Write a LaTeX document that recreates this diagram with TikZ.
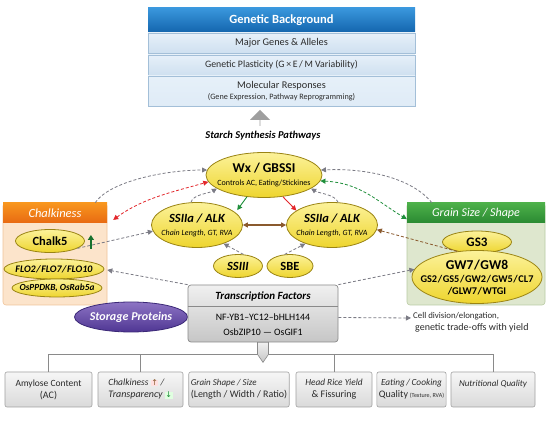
\documentclass[tikz,border=0pt]{standalone}
\usepackage{fontspec}
\setmainfont{Carlito}
\newfontfamily\dejavu{DejaVu Sans}
\usetikzlibrary{arrows.meta,shapes.geometric,shapes.arrows}
\newcommand{\fsz}[2]{\fontsize{#1}{#2}\selectfont}
\newcommand{\slsh}{\kern0.6pt/\kern0.6pt}
\definecolor{gbA}{HTML}{3A97DD}\definecolor{gbB}{HTML}{1466AE}
\definecolor{rowA}{HTML}{E6F0F9}\definecolor{rowB}{HTML}{CFE0F0}\definecolor{rowD}{HTML}{A3BFD8}
\definecolor{ylA}{HTML}{FCF29A}\definecolor{ylB}{HTML}{EED52E}\definecolor{ylD}{HTML}{9A8414}
\definecolor{orA}{HTML}{F8961E}\definecolor{orB}{HTML}{E86A12}\definecolor{orBody}{HTML}{FCE4CB}\definecolor{orD}{HTML}{F0C49A}
\definecolor{grA}{HTML}{4DB04A}\definecolor{grB}{HTML}{2A8A32}\definecolor{grBody}{HTML}{DEE7CE}\definecolor{grD}{HTML}{B9CBA4}
\definecolor{puA}{HTML}{8D74C4}\definecolor{puB}{HTML}{4F3693}\definecolor{puD}{HTML}{3B2877}
\definecolor{tgA}{HTML}{F0F0F0}\definecolor{tgB}{HTML}{C6C6C6}\definecolor{tgD}{HTML}{8A8A8A}
\definecolor{bxA}{HTML}{F6F6F6}\definecolor{bxB}{HTML}{DADADA}
\definecolor{cgray}{HTML}{7B7B85}\definecolor{cred}{HTML}{E3262B}\definecolor{cgreen}{HTML}{1E8E3A}\definecolor{cbrown}{HTML}{8A5A2E}
\definecolor{txt}{HTML}{2B2B2B}
\begin{document}
\begin{tikzpicture}[x=1pt,y=-1pt,
  yel/.style={ellipse, draw=ylD, line width=0.8pt, top color=ylA, bottom color=ylB, inner sep=0pt},
  lbl/.style={align=center, inner sep=0pt, text=black},
  row/.style={rectangle, draw=rowD, line width=0.5pt, top color=rowA, bottom color=rowB, minimum width=267, inner sep=0pt, align=center, text=txt},
  hdrbox/.style={rectangle, inner sep=0pt, text=white, align=center},
  bbox/.style={rectangle, rounded corners=2pt, draw=tgD!80, line width=0.6pt, top color=bxA, bottom color=bxB, minimum height=35, inner sep=2pt, text=txt},
  con/.style={line width=0.8pt, dash pattern=on 3pt off 2pt},
  tip/.style={-{Triangle[length=5pt,width=5pt]}},
  dtip/.style={{Triangle[length=5pt,width=5pt]}-{Triangle[length=5pt,width=5pt]}},
]
\useasboundingbox (0,0) rectangle (550,422);
\fill[white] (0,0) rectangle (550,422);

% ---------- top block
\node[hdrbox, top color=gbA, bottom color=gbB, minimum width=267, minimum height=24] (gb) at (281.5,20) {\fsz{12.5}{14}\bfseries Genetic Background};
\node[row, minimum height=20] (r1) at (281.5,43) {\fsz{10.3}{12}Major Genes \& Alleles};
\node[row, minimum height=20] (r2) at (281.5,65) {\fsz{9.8}{12}Genetic Plasticity (G\,×\,E\,/\,M Variability)};
\node[row, minimum height=30, top color=rowA, bottom color=rowA!70!rowB] (r3) at (281.5,91) {\fsz{10.3}{11}Molecular Responses\\[-1pt]\fsz{8.2}{9}(Gene Expression, Pathway Reprogramming)};

\node[single arrow, shape border rotate=90, fill=gray!75, minimum height=16, minimum width=20, single arrow head extend=5pt, inner sep=0pt] (up) at (260,118) {};
\node (ssp) at (263,136) {\fsz{10.5}{12}\bfseries\itshape Starch Synthesis Pathways};

% ---------- side panels
\node[rectangle, rounded corners=3pt, fill=orBody, draw=orD, line width=0.6pt, minimum width=104, minimum height=102, inner sep=0pt] (chk) at (55,254) {};
\node[hdrbox, top color=orA, bottom color=orB, minimum width=104, minimum height=20, anchor=north] (chkh) at (chk.north) {\fsz{12.5}{14}\itshape Chalkiness};
\node[rectangle, rounded corners=3pt, fill=grBody, draw=grD, line width=0.6pt, minimum width=138, minimum height=102, inner sep=0pt] (gs) at (476,254) {};
\node[hdrbox, top color=grA, bottom color=grB, minimum width=138, minimum height=20, anchor=north] (gsh) at (gs.north) {\fsz{12}{14}\itshape Grain Size / Shape};

% ---------- ellipses
\node[yel, minimum width=116, minimum height=45, label={[lbl]center:{\fsz{13.5}{15}\bfseries Wx / GBSSI\\[1pt]\fsz{8}{9}Controls AC, Eating/Stickines}}] (wx) at (264,175) {};
\node[yel, minimum width=91, minimum height=45, label={[lbl]center:{\fsz{12.5}{14}\bfseries\itshape SSIIa / ALK\\[1pt]\fsz{8}{9}\itshape Chain Length, GT, RVA}}] (sl) at (197,225) {};
\node[yel, minimum width=91, minimum height=45, label={[lbl]center:{\fsz{12.5}{14}\bfseries\itshape SSIIa / ALK\\[1pt]\fsz{8}{9}\itshape Chain Length, GT, RVA}}] (sr) at (332,225) {};
\node[yel, minimum width=49, minimum height=23, label={[lbl]center:{\fsz{12.5}{14}\bfseries\itshape SSIII}}] (s3) at (238,266) {};
\node[yel, minimum width=46, minimum height=23, label={[lbl]center:{\fsz{12.5}{14}\bfseries SBE}}] (sbe) at (290,266) {};

\node[yel, minimum width=69, minimum height=23, label={[lbl]center:{\fsz{12.5}{14}\bfseries Chalk5}}] (ch5) at (50,241) {};
\node[yel, minimum width=100, minimum height=20, label={[lbl]center:{\fsz{10}{11}\bfseries\itshape FLO2\slsh FLO7\slsh FLO10}}] (flo) at (54,269) {};
\node[yel, minimum width=90, minimum height=18, label={[lbl]center:{\fsz{9.3}{10}\bfseries\itshape OsPPDKB, OsRab5a}}] (osp) at (57,288) {};
\node[ellipse, draw=puD, line width=0.8pt, top color=puA, bottom color=puB, minimum width=113, minimum height=30, inner sep=0pt, label={[lbl, text=white]center:{\fsz{12}{13}\bfseries\itshape Storage Proteins}}] (stp) at (131,317) {};

\node[yel, minimum width=69, minimum height=22, label={[lbl]center:{\fsz{13}{14}\bfseries GS3}}] (gs3) at (477,242) {};
\node[yel, minimum width=130, minimum height=53, label={[lbl]center:{\fsz{13.5}{14}\bfseries GW7\slsh GW8\\[1pt]\fsz{10.3}{11.5}\bfseries GS2\slsh GS5\slsh GW2\slsh GW5\slsh CL7\\\fsz{10.3}{11.5}\bfseries /GLW7\slsh WTGI}}] (gw) at (477,277) {};

% ---------- transcription factors
\node[rectangle, rounded corners=3pt, draw=tgD, line width=0.7pt, top color=tgA, bottom color=tgB, minimum width=150, minimum height=57, inner sep=0pt] (tf) at (263,313.5) {};
\draw[tgD, line width=0.6pt] ([yshift=-22pt]tf.north west) -- ([yshift=-22pt]tf.north east);
\node (tfh) at ([yshift=-11.5pt]tf.north) {\fsz{11}{13}\bfseries\itshape Transcription Factors};
\node (tf1) at ([yshift=-32pt]tf.north) {\fsz{9.8}{11}NF-YB1--YC12--bHLH144};
\node (tf2) at ([yshift=-47pt]tf.north) {\fsz{9.8}{11}OsbZIP10 --- OsGIF1};
\node[anchor=north west, align=left, inner sep=0pt, text=txt] (cell) at (413,312) {\fsz{8.8}{15}Cell division/elongation,\\\hspace*{2pt}genetic trade-offs with yield};

% ---------- bottom boxes
\node[bbox, minimum width=87, align=center] (b1) at (48.5,389.5) {\fsz{9.5}{13}Amylose Content\\(AC)};
\node[bbox, minimum width=85, align=left] (b2) at (140.5,389.5) {\fsz{9.5}{13}\itshape Chalkiness {\dejavu\fsz{8}{13}\setlength{\fboxsep}{0.5pt}\colorbox{red!12}{\color{cbrown}↑}} /\\\itshape Transparency {\dejavu\fsz{8}{13}\setlength{\fboxsep}{0.5pt}\colorbox{green!12}{\color{cgreen}↓}}};
\node[bbox, minimum width=98, align=left] (b3) at (239,389.5) {\fsz{9}{13}\itshape Grain Shape / Size\\(Length / Width / Ratio)};
\node[bbox, minimum width=76, align=center] (b4) at (334,389.5) {\fsz{9.3}{13}\itshape Head Rice Yield\\\& Fissuring};
\node[bbox, minimum width=69, align=center] (b5) at (411.5,389.5) {\fsz{9.3}{13}\itshape Eating\,/\,Cooking\\Quality\,{\fsz{6}{13}(Texture, RVA)}};
\node[bbox, minimum width=84, align=center] (b6) at (493,389.5) {\fsz{9}{13}\itshape Nutritional Quality\\\mbox{}};

% tree lines
\draw[tgD, line width=0.8pt] (b1.north) -- (b1.north |- 0,354) -- (b6.north |- 0,354) -- (b6.north);
\draw[tgD, line width=0.8pt] (b2.north) -- (b2.north |- 0,354);
\draw[tgD, line width=0.8pt] (b4.north) -- (b4.north |- 0,354);
\draw[tgD, line width=0.6pt, top color=tgA, bottom color=tgB] ([xshift=-5.5pt]tf.south) -- ([xshift=-5.5pt,yshift=-12pt]tf.south) -- ([yshift=-20pt]tf.south) -- ([xshift=5.5pt,yshift=-12pt]tf.south) -- ([xshift=5.5pt]tf.south) -- cycle;

% ---------- connectors
\draw[con, cgray, tip] ([xshift=-12pt]chkh.north east) .. controls +(15,-22) and +(-40,0) .. (wx.175);
\draw[con, cred, dtip] ([xshift=6pt,yshift=-7pt]chkh.east) .. controls +(30,-22) and +(-35,10) .. (wx.187);
\draw[con, cgray, tip] (sl.105) .. controls +(2,-8) and +(-8,5) .. (wx.196);
\draw[cgreen, line width=0.9pt, tip, shorten >=3pt] (wx.232) -- (sl.18);
\draw[cred, line width=0.9pt, tip] (wx.-49) -- (sr.158);
\draw[con, cgray, tip] (sr.75) .. controls +(-3,-8) and +(8,5) .. (wx.-16);
\draw[con, cgray, tip] ([xshift=25pt]gsh.north west) .. controls +(-20,-25) and +(45,-2) .. (wx.5);
\draw[con, cgreen, dtip] (wx.-6) .. controls +(40,2) and +(-30,-18) .. ([yshift=4pt]gsh.south west);
\draw[con, cbrown, tip] (gs3.205) -- (sr.-6);
\draw[cbrown, line width=1.2pt, dtip] (sl.east) -- (sr.west);
\draw[con, cgray, tip] (ch5.-15) -- (sl.188);
\draw[con, cgray, tip] (s3.65) -- (sl.-35);
\draw[con, cgray, tip] (sbe.115) -- (sr.215);
\draw[con, cgray, tip] (tf.north west) -- ([yshift=-16pt]chk.east);
\draw[con, cgray, tip] (tf.north east) -- (gw.173);
\draw[con, cgray, tip] ([yshift=-4pt]tf.east) -- ([xshift=-2pt,yshift=-6pt]cell.north west);
\draw[cgreen!80!black, line width=1.6pt, -{Triangle[length=5pt,width=6pt]}] ([xshift=6pt,yshift=-8pt]ch5.east) -- ++(0,-14);
\end{tikzpicture}
\end{document}
